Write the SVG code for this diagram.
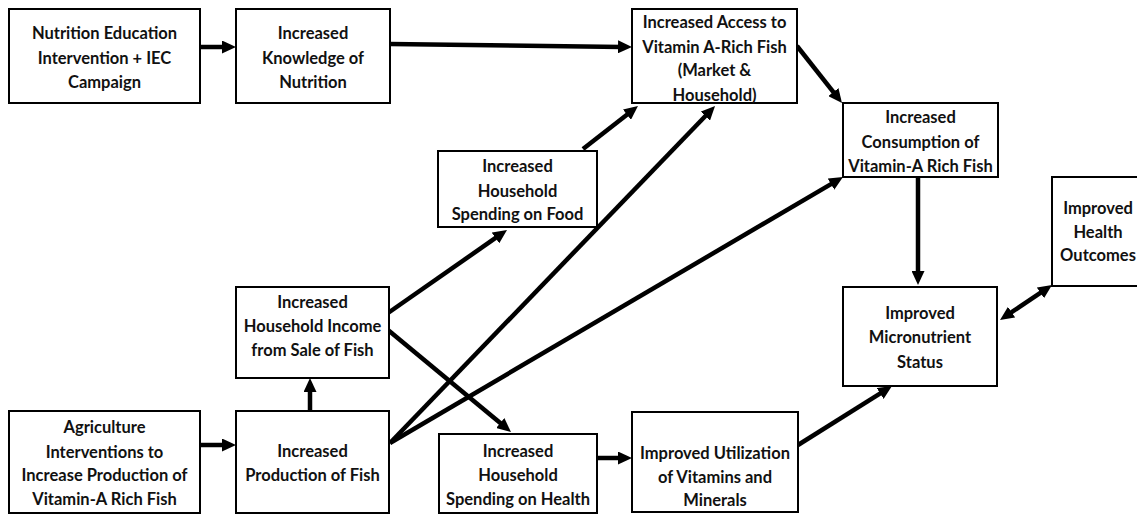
<svg xmlns="http://www.w3.org/2000/svg" width="1137" height="515" viewBox="0 0 1137 515">
<style>
.box{fill:#fff;stroke:#000;stroke-width:2}
.t{font-family:Lato,"Liberation Sans",sans-serif;font-weight:bold;font-size:16.5px;fill:#111;text-anchor:middle}
.c{stroke:#000;stroke-width:4.5;fill:none;marker-end:url(#ah)}
</style>
<defs>
<marker id="ah" markerUnits="userSpaceOnUse" markerWidth="14" markerHeight="13" viewBox="0 0 14 13" refX="4" refY="6.5" orient="auto-start-reverse">
<path d="M0,0 L14,6.5 L0,13 z" fill="#000"/>
</marker>
</defs>
<rect width="1137" height="515" fill="#fff"/>
<g id="connectors">
<line class="c" x1="200" y1="47" x2="226" y2="47"/>
<line class="c" x1="390" y1="44" x2="622" y2="46.9"/>
<line class="c" x1="797" y1="46" x2="835.8" y2="95.2"/>
<line class="c" x1="918" y1="177" x2="918" y2="275"/>
<line class="c" x1="1008.3" y1="314.4" x2="1043.7" y2="290.6" marker-start="url(#ah)"/>
<line class="c" x1="388" y1="313" x2="498.8" y2="235.7"/>
<line class="c" x1="583" y1="149" x2="630.1" y2="112.2"/>
<line class="c" x1="200" y1="445" x2="226" y2="445"/>
<line class="c" x1="310" y1="411" x2="310" y2="388"/>
<line class="c" x1="390" y1="443" x2="708.1" y2="113.2"/>
<line class="c" x1="390" y1="443" x2="834.4" y2="182.1"/>
<line class="c" x1="388" y1="330" x2="503.3" y2="425.6"/>
<line class="c" x1="597" y1="458" x2="622" y2="458"/>
<line class="c" x1="798" y1="445" x2="883.5" y2="391.3"/>
</g>
<g id="edu">
<rect class="box" x="9" y="9" width="191" height="94"/>
<text class="t" x="104.5" y="39">Nutrition Education</text>
<text class="t" x="104.5" y="64">Intervention + IEC</text>
<text class="t" x="104.5" y="88">Campaign</text>
</g>
<g id="knowledge">
<rect class="box" x="236" y="9" width="154" height="94"/>
<text class="t" x="313" y="39">Increased</text>
<text class="t" x="313" y="64">Knowledge of</text>
<text class="t" x="313" y="88">Nutrition</text>
</g>
<g id="access">
<rect class="box" x="632" y="9" width="165" height="94"/>
<text class="t" x="714.5" y="28">Increased Access to</text>
<text class="t" x="714.5" y="52.5">Vitamin A-Rich Fish</text>
<text class="t" x="714.5" y="76">(Market &amp;</text>
<text class="t" x="714.5" y="100.5">Household)</text>
</g>
<g id="consumption">
<rect class="box" x="843" y="103" width="155" height="74"/>
<text class="t" x="920.5" y="123">Increased</text>
<text class="t" x="920.5" y="147.5">Consumption of</text>
<text class="t" x="920.5" y="171.5">Vitamin-A Rich Fish</text>
</g>
<g id="health-outcomes">
<rect class="box" x="1052" y="177" width="100" height="109"/>
<text class="t" x="1098" y="214">Improved</text>
<text class="t" x="1098" y="238">Health</text>
<text class="t" x="1098" y="261">Outcomes</text>
</g>
<g id="food">
<rect class="box" x="438" y="151" width="159" height="76"/>
<text class="t" x="517.5" y="172">Increased</text>
<text class="t" x="517.5" y="197">Household</text>
<text class="t" x="517.5" y="220">Spending on Food</text>
</g>
<g id="income">
<rect class="box" x="236" y="287" width="153" height="91"/>
<text class="t" x="312.5" y="308">Increased</text>
<text class="t" x="312.5" y="332">Household Income</text>
<text class="t" x="312.5" y="356">from Sale of Fish</text>
</g>
<g id="micronutrient">
<rect class="box" x="843" y="287" width="154" height="99"/>
<text class="t" x="920" y="319">Improved</text>
<text class="t" x="920" y="343">Micronutrient</text>
<text class="t" x="920" y="368">Status</text>
</g>
<g id="agriculture">
<rect class="box" x="9" y="411" width="191" height="102"/>
<text class="t" x="104.5" y="433">Agriculture</text>
<text class="t" x="104.5" y="458">Interventions to</text>
<text class="t" x="104.5" y="481">Increase Production of</text>
<text class="t" x="104.5" y="504.5">Vitamin-A Rich Fish</text>
</g>
<g id="production">
<rect class="box" x="236" y="411" width="153" height="102"/>
<text class="t" x="312.5" y="457">Increased</text>
<text class="t" x="312.5" y="480.5">Production of Fish</text>
</g>
<g id="health-spending">
<rect class="box" x="439" y="434" width="158" height="79"/>
<text class="t" x="518" y="457">Increased</text>
<text class="t" x="518" y="480.5">Household</text>
<text class="t" x="518" y="504.5">Spending on Health</text>
</g>
<g id="utilization">
<rect class="box" x="632" y="412" width="166" height="100"/>
<text class="t" x="715" y="459">Improved Utilization</text>
<text class="t" x="715" y="483">of Vitamins and</text>
<text class="t" x="715" y="506">Minerals</text>
</g>
</svg>
